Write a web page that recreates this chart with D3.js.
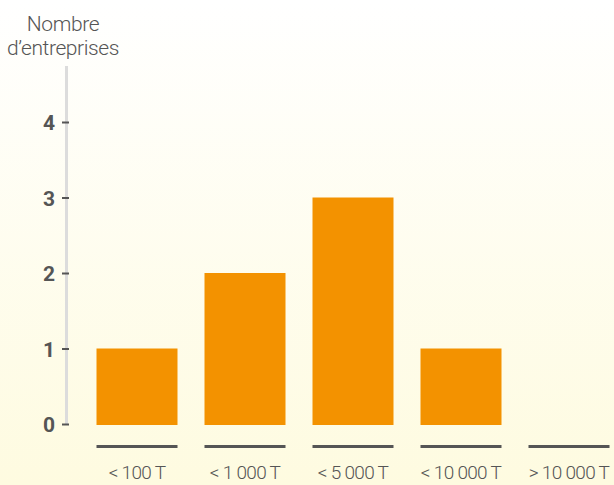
<!DOCTYPE html>
<html>
<head>
<meta charset="utf-8">
<script src="https://cdn.jsdelivr.net/npm/d3@7"></script>
<style>
  body { margin: 0; padding: 0; }
  svg { display: block; }
</style>
</head>
<body>
<div class="chart"></div>
<script>
// données
const categories = ["< 100 T", "< 1 000 T", "< 5 000 T", "< 10 000 T", "> 10 000 T"];
const values = [1, 2, 3, 1, 0];
const yTicks = [0, 1, 2, 3, 4];

const width = 614;
const height = 485;

const svg = d3.select('.chart').append('svg')
    .attr('width', width).attr('height', height);

// fond dégradé blanc -> jaune pâle
const grad = svg.append('defs').append('linearGradient')
    .attr('id', 'bg').attr('x1', 0).attr('y1', 0).attr('x2', 0).attr('y2', 1);
grad.append('stop').attr('offset', '0%').attr('stop-color', '#ffffff');
grad.append('stop').attr('offset', '100%').attr('stop-color', '#fefbe0');
svg.append('rect').attr('width', width).attr('height', height).attr('fill', 'url(#bg)');

const y = d3.scaleLinear().domain([0, 4]).range([424, 122]);
const x = d3.scaleBand().domain(categories).range([83, 623])
    .paddingInner(0.25).paddingOuter(0.125);

// titre de l'axe
const title = svg.append('text')
    .attr('text-anchor', 'middle')
    .style('font-family', 'Roboto, sans-serif').style('font-weight', 300)
    .style('font-size', '21px').style('letter-spacing', '-0.4px').style('fill', '#555');
title.append('tspan').attr('x', 63).attr('y', 31).text('Nombre');
title.append('tspan').attr('x', 63).attr('y', 55).text('d\u2019entreprises');

// ligne verticale de l'axe
svg.append('line')
    .attr('x1', 66.5).attr('x2', 66.5).attr('y1', 66).attr('y2', y(0))
    .attr('stroke', '#dcdcdc').attr('stroke-width', 3);

const yAxis = d3.axisLeft(y).tickValues(yTicks).tickFormat(d3.format('d'))
    .tickSize(7).tickPadding(7);
const yAxisDraw = svg.append('g').attr('transform', 'translate(69,0)').call(yAxis);
yAxisDraw.select('.domain').remove();
yAxisDraw.selectAll('line').attr('stroke', '#555').attr('stroke-width', 2);
yAxisDraw.selectAll('text')
    .style('font-family', 'Roboto, sans-serif').style('font-weight', 700)
    .style('font-size', '21px').style('fill', '#555').attr('dy', '0.36em');

// barres
svg.append('g').selectAll('rect').data(values).join('rect')
    .attr('x', (d, i) => x(categories[i]))
    .attr('width', x.bandwidth())
    .attr('y', d => y(d))
    .attr('height', d => y(0) + 1 - y(d))
    .attr('fill', d => d > 0 ? '#f39200' : 'none');

// traits sous chaque catégorie
svg.append('g').selectAll('line').data(categories).join('line')
    .attr('x1', d => x(d)).attr('x2', d => x(d) + x.bandwidth())
    .attr('y1', 446.5).attr('y2', 446.5)
    .attr('stroke', '#555').attr('stroke-width', 3);

// étiquettes
svg.append('g').selectAll('text').data(categories).join('text')
    .attr('x', d => x(d) + x.bandwidth() / 2).attr('y', 479)
    .attr('text-anchor', 'middle')
    .style('font-family', 'Roboto, sans-serif').style('font-weight', 300)
    .style('font-size', '19px').style('letter-spacing', '-0.7px').style('fill', '#555')
    .text(d => d);
</script>
</body>
</html>
